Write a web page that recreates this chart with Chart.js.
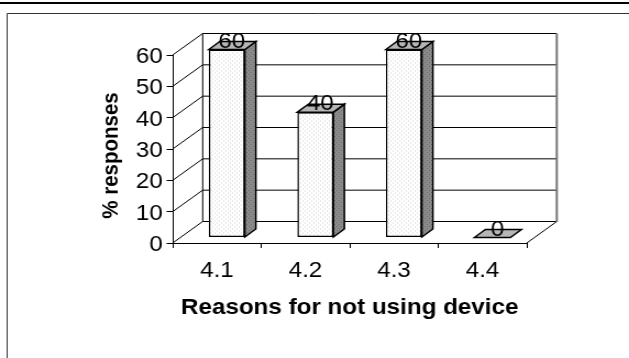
<!DOCTYPE html>
<html>
<head>
<meta charset="utf-8">
<script src="https://cdn.jsdelivr.net/npm/chart.js@4"></script>
<style>
  html, body { margin: 0; padding: 0; background: #fff; overflow: hidden; width: 629px; height: 358px; }
  #wrap { position: absolute; left: 0; top: 0; width: 572px; height: 358px;
          transform: scaleX(1.0997); transform-origin: 0 0; }
</style>
</head>
<body>
<div id="wrap"><canvas id="c"></canvas></div>
<script>
// ---- data ----
const categories = ['4.1', '4.2', '4.3', '4.4'];
const responses = [60, 40, 60, 0];
const yMin = 0;
const yMax = 60;
const yStep = 10;
const xTitle = 'Reasons for not using device';
const yTitle = '% responses';

// ---- look ----
const FONT = "'Liberation Sans', Arial, sans-serif";
const WALL = { dx: 27.3, dy: -21.5 };      // offset of the back wall from the front axes
const BAR_SHIFT = { dx: 9, dy: -5.5 };     // bars stand a little inside the box
const BAR_DEPTH = { dx: 10, dy: -8 };      // thickness of each 3-D bar

// stippled fill: a diagonal grid of single-pixel dots
function dotPattern(bg, dot) {
  const c = document.createElement('canvas');
  c.width = 4; c.height = 4;
  const g = c.getContext('2d');
  g.fillStyle = bg; g.fillRect(0, 0, 4, 4);
  g.fillStyle = dot;
  g.fillRect(0, 0, 1, 1);
  g.fillRect(2, 2, 1, 1);
  return g.createPattern(c, 'repeat');
}
const frontFill = dotPattern('#ffffff', '#d0d0d0');
const sideFill = dotPattern('#8a8a8a', '#6c6c6c');
const capFill = '#b6b6b6';

// frame, top rule and rotated y title
const framePlugin = {
  id: 'frame',
  beforeDraw(chart) {
    const ctx = chart.ctx;
    ctx.save();
    ctx.fillStyle = '#fff';
    ctx.fillRect(0, 0, chart.width, chart.height);
    ctx.fillStyle = '#000';
    ctx.fillRect(0, 2, chart.width, 2);
    ctx.strokeStyle = '#333';
    ctx.lineWidth = 1;
    ctx.beginPath();
    ctx.moveTo(6.5, chart.height);
    ctx.lineTo(6.5, 13.5);
    ctx.lineTo(chart.width, 13.5);
    ctx.stroke();

    ctx.translate(101.8, 155.5);
    ctx.rotate(-Math.PI / 2);
    ctx.font = 'bold 20.5px ' + FONT;
    ctx.textAlign = 'center';
    ctx.textBaseline = 'middle';
    ctx.fillStyle = '#000';
    ctx.fillText(yTitle, 0, 0);
    ctx.restore();
  }
};

// back wall, floor and gridlines of the 3-D box; bars are then shifted into depth
const boxPlugin = {
  id: 'box3d',
  beforeDatasetsDraw(chart) {
    const ctx = chart.ctx;
    const { left, right } = chart.chartArea;
    const y = chart.scales.y;
    const y0 = y.getPixelForValue(yMin);
    const yTop = y.getPixelForValue(yMax);
    ctx.save();
    ctx.strokeStyle = '#000';
    ctx.lineWidth = 1;
    ctx.beginPath();
    y.ticks.forEach(t => {
      const py = y.getPixelForValue(t.value);
      ctx.moveTo(left, py);
      ctx.lineTo(left + WALL.dx, py + WALL.dy);
      ctx.lineTo(right + WALL.dx, py + WALL.dy);
    });
    ctx.moveTo(left + WALL.dx, yTop + WALL.dy);
    ctx.lineTo(left + WALL.dx, y0 + WALL.dy);
    ctx.moveTo(right, y0);
    ctx.lineTo(right + WALL.dx, y0 + WALL.dy);
    ctx.stroke();
    ctx.strokeStyle = '#777';
    ctx.lineWidth = 2;
    ctx.beginPath();
    ctx.moveTo(right + WALL.dx, yTop + WALL.dy);
    ctx.lineTo(right + WALL.dx, y0 + WALL.dy + 0.5);
    ctx.stroke();
    ctx.restore();

    ctx.save();
    ctx.translate(BAR_SHIFT.dx, BAR_SHIFT.dy);
  },
  afterDatasetsDraw(chart) {
    const ctx = chart.ctx;
    ctx.restore();
    const meta = chart.getDatasetMeta(0);
    ctx.save();
    ctx.lineWidth = 1.5;
    ctx.strokeStyle = '#000';
    ctx.lineJoin = 'miter';
    meta.data.forEach((el, i) => {
      const { x, y, base, width } = el.getProps(['x', 'y', 'base', 'width'], true);
      const xl = x - width / 2 + BAR_SHIFT.dx;
      const xr = x + width / 2 + BAR_SHIFT.dx;
      const yt = y + BAR_SHIFT.dy;
      const yb = base + BAR_SHIFT.dy;
      if (yb - yt > 0.5) {
        ctx.beginPath();
        ctx.moveTo(xr, yt);
        ctx.lineTo(xr + BAR_DEPTH.dx, yt + BAR_DEPTH.dy);
        ctx.lineTo(xr + BAR_DEPTH.dx, yb + BAR_DEPTH.dy);
        ctx.lineTo(xr, yb);
        ctx.closePath();
        ctx.fillStyle = sideFill;
        ctx.fill();
        ctx.stroke();
      }
      ctx.beginPath();
      ctx.moveTo(xl, yt);
      ctx.lineTo(xl + BAR_DEPTH.dx, yt + BAR_DEPTH.dy);
      ctx.lineTo(xr + BAR_DEPTH.dx, yt + BAR_DEPTH.dy);
      ctx.lineTo(xr, yt);
      ctx.closePath();
      ctx.fillStyle = capFill;
      ctx.fill();
      ctx.stroke();

      // value label
      ctx.font = '22px ' + FONT;
      ctx.fillStyle = '#000';
      ctx.textAlign = 'center';
      ctx.textBaseline = 'alphabetic';
      ctx.fillText(String(responses[i]), (xl + xr) / 2 + 4.5, yt - 2);
    });
    ctx.restore();
  }
};

new Chart(document.getElementById('c'), {
  type: 'bar',
  data: {
    labels: categories,
    datasets: [{
      data: responses,
      backgroundColor: frontFill,
      borderColor: '#000',
      borderWidth: 1.5,
      borderSkipped: false,
      categoryPercentage: 1,
      barPercentage: 0.407,
      clip: false
    }]
  },
  options: {
    responsive: true,
    maintainAspectRatio: false,
    animation: false,
    events: [],
    layout: { padding: { top: 55, right: 93, left: 0, bottom: 0 } },
    plugins: { legend: { display: false }, tooltip: { enabled: false } },
    scales: {
      x: {
        offset: true,
        grid: { display: true, drawOnChartArea: false, drawTicks: true, tickLength: 5, color: '#000', offset: true },
        border: { display: true, color: '#000', width: 1 },
        ticks: { color: '#000', font: { size: 22, family: FONT }, padding: 9.3, maxRotation: 0 },
        title: { display: true, text: xTitle, color: '#000',
                 font: { size: 22, weight: 'bold', family: FONT }, padding: { top: 0, bottom: 36.8 } },
        afterFit(s) { s.height = 115; }
      },
      y: {
        min: yMin,
        max: yMax,
        grid: { display: true, drawOnChartArea: false, drawTicks: true, tickLength: 5.5, color: '#000' },
        border: { display: true, color: '#000', width: 1 },
        ticks: { stepSize: yStep, color: '#000', font: { size: 22, family: FONT }, padding: 3.5, labelOffset: 2 },
        afterFit(s) { s.width = 157; }
      }
    }
  },
  plugins: [framePlugin, boxPlugin]
});
</script>
</body>
</html>
